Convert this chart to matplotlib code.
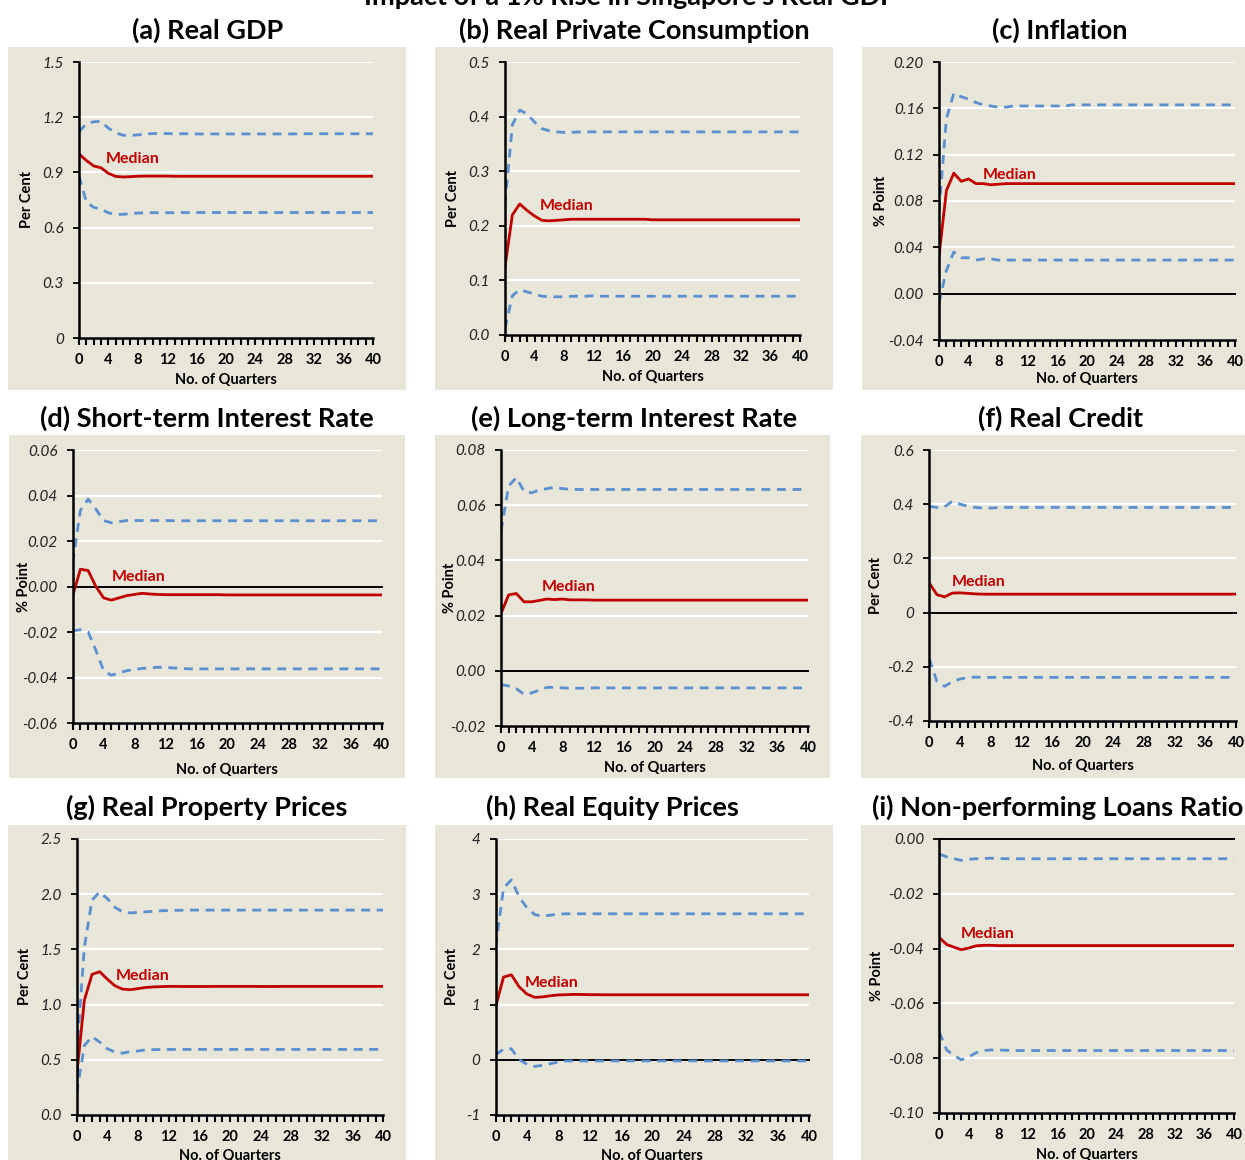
import matplotlib
matplotlib.use("Agg")
import matplotlib.pyplot as plt
from matplotlib.patches import Rectangle
from matplotlib.ticker import MultipleLocator

plt.rcParams['font.family'] = ['Lato', 'DejaVu Sans']

# ---------------- data ----------------
quarters = list(range(41))

suptitle = "Impact of a 1% Rise in Singapore's Real GDP"
titles = ["(a) Real GDP", "(b) Real Private Consumption", "(c) Inflation",
          "(d) Short-term Interest Rate", "(e) Long-term Interest Rate", "(f) Real Credit",
          "(g) Real Property Prices", "(h) Real Equity Prices", "(i) Non-performing Loans Ratio"]
ylabels = ["Per Cent", "Per Cent", "% Point",
           "% Point", "% Point", "Per Cent",
           "Per Cent", "Per Cent", "% Point"]
xlabel = "No. of Quarters"
median_label = "Median"

ytick_values = [
    [0, 0.3, 0.6, 0.9, 1.2, 1.5],
    [0.0, 0.1, 0.2, 0.3, 0.4, 0.5],
    [-0.04, 0.00, 0.04, 0.08, 0.12, 0.16, 0.20],
    [-0.06, -0.04, -0.02, 0.00, 0.02, 0.04, 0.06],
    [-0.02, 0.00, 0.02, 0.04, 0.06, 0.08],
    [-0.4, -0.2, 0, 0.2, 0.4, 0.6],
    [0.0, 0.5, 1.0, 1.5, 2.0, 2.5],
    [-1, 0, 1, 2, 3, 4],
    [-0.10, -0.08, -0.06, -0.04, -0.02, 0.00],
]
ytick_labels = [
    ["0", "0.3", "0.6", "0.9", "1.2", "1.5"],
    ["0.0", "0.1", "0.2", "0.3", "0.4", "0.5"],
    ["-0.04", "0.00", "0.04", "0.08", "0.12", "0.16", "0.20"],
    ["-0.06", "-0.04", "-0.02", "0.00", "0.02", "0.04", "0.06"],
    ["-0.02", "0.00", "0.02", "0.04", "0.06", "0.08"],
    ["-0.4", "-0.2", "0", "0.2", "0.4", "0.6"],
    ["0.0", "0.5", "1.0", "1.5", "2.0", "2.5"],
    ["-1", "0", "1", "2", "3", "4"],
    ["-0.10", "-0.08", "-0.06", "-0.04", "-0.02", "0.00"],
]
xtick_values = [0, 4, 8, 12, 16, 20, 24, 28, 32, 36, 40]

# (a) Real GDP
gdp_median = [1.000, 0.965, 0.935, 0.925, 0.895, 0.878, 0.875, 0.877, 0.879, 0.880,
              0.880, 0.880, 0.880, 0.879, 0.879, 0.879, 0.879, 0.879, 0.879, 0.879,
              0.879, 0.879, 0.879, 0.879, 0.879, 0.879, 0.879, 0.879, 0.879, 0.879,
              0.879, 0.879, 0.879, 0.879, 0.879, 0.879, 0.879, 0.879, 0.879, 0.879,
              0.879]
gdp_upper = [1.120, 1.165, 1.175, 1.178, 1.140, 1.115, 1.102, 1.100, 1.104, 1.108,
             1.111, 1.112, 1.111, 1.110, 1.110, 1.110, 1.109, 1.109, 1.109, 1.109,
             1.109, 1.109, 1.109, 1.109, 1.109, 1.109, 1.109, 1.109, 1.109, 1.109,
             1.110, 1.110, 1.110, 1.110, 1.110, 1.110, 1.110, 1.110, 1.110, 1.110,
             1.110]
gdp_lower = [0.880, 0.740, 0.710, 0.700, 0.680, 0.672, 0.672, 0.676, 0.679, 0.680,
             0.681, 0.681, 0.681, 0.681, 0.682, 0.682, 0.682, 0.682, 0.682, 0.682,
             0.682, 0.682, 0.682, 0.682, 0.682, 0.682, 0.682, 0.682, 0.682, 0.682,
             0.682, 0.682, 0.682, 0.682, 0.682, 0.682, 0.682, 0.682, 0.682, 0.682,
             0.682]

# (b) Real Private Consumption
cons_median = [0.125, 0.220, 0.240, 0.228, 0.218, 0.210, 0.209, 0.210, 0.211, 0.212,
               0.212, 0.212, 0.212, 0.212, 0.212, 0.212, 0.212, 0.212, 0.212, 0.212,
               0.211, 0.211, 0.211, 0.211, 0.211, 0.211, 0.211, 0.211, 0.211, 0.211,
               0.211, 0.211, 0.211, 0.211, 0.211, 0.211, 0.211, 0.211, 0.211, 0.211,
               0.211]
cons_upper = [0.240, 0.385, 0.412, 0.405, 0.390, 0.378, 0.374, 0.372, 0.371, 0.371,
              0.372, 0.372, 0.372, 0.372, 0.372, 0.372, 0.372, 0.372, 0.372, 0.372,
              0.372, 0.372, 0.372, 0.372, 0.372, 0.372, 0.372, 0.372, 0.372, 0.372,
              0.372, 0.372, 0.372, 0.372, 0.372, 0.372, 0.372, 0.372, 0.372, 0.372,
              0.372]
cons_lower = [0.012, 0.072, 0.083, 0.079, 0.075, 0.071, 0.070, 0.070, 0.070, 0.071,
              0.071, 0.071, 0.072, 0.071, 0.071, 0.071, 0.071, 0.071, 0.071, 0.071,
              0.071, 0.071, 0.071, 0.071, 0.071, 0.071, 0.071, 0.071, 0.071, 0.071,
              0.071, 0.071, 0.071, 0.071, 0.071, 0.071, 0.071, 0.071, 0.071, 0.071,
              0.071]

# (c) Inflation
infl_median = [0.032, 0.089, 0.104, 0.097, 0.099, 0.095, 0.095, 0.094, 0.0945, 0.095,
               0.095, 0.095, 0.095, 0.095, 0.095, 0.095, 0.095, 0.095, 0.095, 0.095,
               0.095, 0.095, 0.095, 0.095, 0.095, 0.095, 0.095, 0.095, 0.095, 0.095,
               0.095, 0.095, 0.095, 0.095, 0.095, 0.095, 0.095, 0.095, 0.095, 0.095,
               0.095]
infl_upper = [0.072, 0.151, 0.173, 0.170, 0.168, 0.165, 0.163, 0.162, 0.161, 0.161,
              0.162, 0.162, 0.162, 0.162, 0.162, 0.162, 0.162, 0.162, 0.163, 0.163,
              0.163, 0.163, 0.163, 0.163, 0.163, 0.163, 0.163, 0.163, 0.163, 0.163,
              0.163, 0.163, 0.163, 0.163, 0.163, 0.163, 0.163, 0.163, 0.163, 0.163,
              0.163]
infl_lower = [-0.008, 0.020, 0.036, 0.031, 0.031, 0.029, 0.030, 0.030, 0.029, 0.029,
              0.029, 0.029, 0.029, 0.029, 0.029, 0.029, 0.029, 0.029, 0.029, 0.029,
              0.029, 0.029, 0.029, 0.029, 0.029, 0.029, 0.029, 0.029, 0.029, 0.029,
              0.029, 0.029, 0.029, 0.029, 0.029, 0.029, 0.029, 0.029, 0.029, 0.029,
              0.029]

# (d) Short-term Interest Rate
sir_median = [-0.0040, 0.0076, 0.0070, 0.0000, -0.0050, -0.0060, -0.0050, -0.0040, -0.0035, -0.0030,
              -0.0033, -0.0035, -0.0036, -0.0036, -0.0036, -0.0036, -0.0036, -0.0036, -0.0036, -0.0036,
              -0.0037, -0.0037, -0.0037, -0.0037, -0.0037, -0.0037, -0.0037, -0.0037, -0.0037, -0.0037,
              -0.0037, -0.0037, -0.0037, -0.0037, -0.0037, -0.0037, -0.0037, -0.0037, -0.0037, -0.0037,
              -0.0037]
sir_upper = [0.0105, 0.0335, 0.0384, 0.0340, 0.0290, 0.0280, 0.0285, 0.0290, 0.0290, 0.0290,
             0.0290, 0.0290, 0.0290, 0.0289, 0.0289, 0.0289, 0.0289, 0.0289, 0.0289, 0.0289,
             0.0289, 0.0289, 0.0289, 0.0289, 0.0289, 0.0289, 0.0289, 0.0289, 0.0289, 0.0289,
             0.0289, 0.0289, 0.0289, 0.0289, 0.0289, 0.0289, 0.0289, 0.0289, 0.0289, 0.0289,
             0.0289]
sir_lower = [-0.0195, -0.0190, -0.0200, -0.0280, -0.0370, -0.0390, -0.0380, -0.0370, -0.0365, -0.0360,
             -0.0358, -0.0355, -0.0355, -0.0358, -0.0360, -0.0362, -0.0362, -0.0362, -0.0362, -0.0362,
             -0.0362, -0.0362, -0.0362, -0.0362, -0.0362, -0.0362, -0.0362, -0.0362, -0.0362, -0.0362,
             -0.0362, -0.0362, -0.0362, -0.0362, -0.0362, -0.0362, -0.0362, -0.0362, -0.0362, -0.0362,
             -0.0362]

# (e) Long-term Interest Rate
lir_median = [0.0208, 0.0275, 0.0280, 0.0250, 0.0250, 0.0255, 0.0260, 0.0258, 0.0260, 0.0257,
              0.0257, 0.0257, 0.0256, 0.0256, 0.0256, 0.0256, 0.0256, 0.0256, 0.0256, 0.0256,
              0.0256, 0.0256, 0.0256, 0.0256, 0.0256, 0.0256, 0.0256, 0.0256, 0.0256, 0.0256,
              0.0256, 0.0256, 0.0256, 0.0256, 0.0256, 0.0256, 0.0256, 0.0256, 0.0256, 0.0256,
              0.0256]
lir_upper = [0.0507, 0.0670, 0.0700, 0.0650, 0.0645, 0.0655, 0.0660, 0.0665, 0.0660, 0.0658,
             0.0657, 0.0657, 0.0657, 0.0657, 0.0657, 0.0657, 0.0657, 0.0657, 0.0657, 0.0657,
             0.0657, 0.0657, 0.0657, 0.0657, 0.0657, 0.0657, 0.0657, 0.0657, 0.0657, 0.0657,
             0.0657, 0.0657, 0.0657, 0.0657, 0.0657, 0.0657, 0.0657, 0.0657, 0.0657, 0.0657,
             0.0657]
lir_lower = [-0.0050, -0.0055, -0.0065, -0.0085, -0.0080, -0.0070, -0.0060, -0.0060, -0.0062, -0.0063,
             -0.0063, -0.0063, -0.0062, -0.0062, -0.0062, -0.0062, -0.0062, -0.0062, -0.0062, -0.0062,
             -0.0062, -0.0062, -0.0062, -0.0062, -0.0062, -0.0062, -0.0062, -0.0062, -0.0062, -0.0062,
             -0.0062, -0.0062, -0.0062, -0.0062, -0.0062, -0.0062, -0.0062, -0.0062, -0.0062, -0.0062,
             -0.0062]

# (f) Real Credit
cred_median = [0.109, 0.066, 0.058, 0.072, 0.073, 0.071, 0.069, 0.068, 0.068, 0.068,
               0.068, 0.068, 0.068, 0.068, 0.068, 0.068, 0.068, 0.068, 0.068, 0.068,
               0.068, 0.068, 0.068, 0.068, 0.068, 0.068, 0.068, 0.068, 0.068, 0.068,
               0.068, 0.068, 0.068, 0.068, 0.068, 0.068, 0.068, 0.068, 0.068, 0.068,
               0.068]
cred_upper = [0.392, 0.388, 0.390, 0.411, 0.400, 0.393, 0.388, 0.386, 0.386, 0.387,
              0.388, 0.388, 0.388, 0.388, 0.388, 0.388, 0.388, 0.388, 0.388, 0.388,
              0.388, 0.388, 0.388, 0.388, 0.388, 0.388, 0.388, 0.388, 0.388, 0.388,
              0.388, 0.388, 0.388, 0.388, 0.388, 0.388, 0.388, 0.388, 0.388, 0.388,
              0.388]
cred_lower = [-0.170, -0.255, -0.272, -0.255, -0.245, -0.240, -0.238, -0.239, -0.239, -0.239,
              -0.239, -0.239, -0.239, -0.239, -0.239, -0.239, -0.239, -0.239, -0.239, -0.239,
              -0.239, -0.239, -0.239, -0.239, -0.239, -0.239, -0.239, -0.239, -0.239, -0.239,
              -0.239, -0.239, -0.239, -0.239, -0.239, -0.239, -0.239, -0.239, -0.239, -0.239,
              -0.239]

# (g) Real Property Prices
prop_median = [0.36, 1.04, 1.274, 1.298, 1.23, 1.17, 1.14, 1.135, 1.145, 1.155,
               1.160, 1.163, 1.165, 1.165, 1.164, 1.164, 1.164, 1.164, 1.165, 1.165,
               1.165, 1.165, 1.165, 1.165, 1.164, 1.164, 1.164, 1.165, 1.165, 1.165,
               1.165, 1.165, 1.165, 1.165, 1.165, 1.165, 1.165, 1.165, 1.165, 1.165,
               1.165]
prop_upper = [0.55, 1.52, 1.947, 2.02, 1.96, 1.88, 1.84, 1.830, 1.835, 1.840,
              1.845, 1.850, 1.852, 1.854, 1.855, 1.856, 1.856, 1.856, 1.856, 1.856,
              1.856, 1.856, 1.856, 1.856, 1.856, 1.856, 1.856, 1.856, 1.856, 1.856,
              1.856, 1.856, 1.856, 1.856, 1.856, 1.856, 1.856, 1.856, 1.856, 1.856,
              1.856]
prop_lower = [0.20, 0.63, 0.71, 0.66, 0.60, 0.57, 0.56, 0.575, 0.580, 0.590,
              0.592, 0.593, 0.594, 0.594, 0.594, 0.594, 0.594, 0.594, 0.594, 0.594,
              0.594, 0.594, 0.594, 0.594, 0.594, 0.594, 0.594, 0.594, 0.594, 0.594,
              0.594, 0.594, 0.594, 0.594, 0.594, 0.594, 0.594, 0.594, 0.594, 0.594,
              0.594]

# (h) Real Equity Prices
eq_median = [0.966, 1.498, 1.54, 1.32, 1.19, 1.13, 1.14, 1.16, 1.175, 1.180,
             1.185, 1.183, 1.180, 1.179, 1.178, 1.178, 1.178, 1.178, 1.178, 1.178,
             1.178, 1.178, 1.178, 1.178, 1.178, 1.178, 1.178, 1.178, 1.178, 1.178,
             1.178, 1.178, 1.178, 1.178, 1.178, 1.178, 1.178, 1.178, 1.178, 1.178,
             1.178]
eq_upper = [2.05, 3.11, 3.26, 2.95, 2.75, 2.63, 2.60, 2.62, 2.64, 2.645,
            2.645, 2.645, 2.645, 2.645, 2.645, 2.645, 2.645, 2.645, 2.645, 2.645,
            2.645, 2.645, 2.645, 2.645, 2.645, 2.645, 2.645, 2.645, 2.645, 2.645,
            2.645, 2.645, 2.645, 2.645, 2.645, 2.645, 2.645, 2.645, 2.645, 2.645,
            2.645]
eq_lower = [0.09, 0.194, 0.20, 0.00, -0.08, -0.12, -0.10, -0.07, -0.04, -0.02,
            -0.02, -0.02, -0.02, -0.02, -0.02, -0.02, -0.02, -0.02, -0.02, -0.02,
            -0.02, -0.02, -0.02, -0.02, -0.02, -0.02, -0.02, -0.02, -0.02, -0.02,
            -0.02, -0.02, -0.02, -0.02, -0.02, -0.02, -0.02, -0.02, -0.02, -0.02,
            -0.02]

# (i) Non-performing Loans Ratio
npl_median = [-0.0360, -0.0385, -0.0395, -0.0404, -0.0398, -0.0390, -0.0388, -0.0388, -0.0389, -0.0389,
              -0.0389, -0.0389, -0.0389, -0.0389, -0.0389, -0.0389, -0.0389, -0.0389, -0.0389, -0.0389,
              -0.0389, -0.0389, -0.0389, -0.0389, -0.0389, -0.0389, -0.0389, -0.0389, -0.0389, -0.0389,
              -0.0389, -0.0389, -0.0389, -0.0389, -0.0389, -0.0389, -0.0389, -0.0389, -0.0389, -0.0389,
              -0.0389]
npl_upper = [-0.0055, -0.0065, -0.0072, -0.0078, -0.0074, -0.0072, -0.0071, -0.0070, -0.0071, -0.0072,
             -0.0072, -0.0072, -0.0072, -0.0072, -0.0072, -0.0072, -0.0072, -0.0072, -0.0072, -0.0072,
             -0.0072, -0.0072, -0.0072, -0.0072, -0.0072, -0.0072, -0.0072, -0.0072, -0.0072, -0.0072,
             -0.0072, -0.0072, -0.0072, -0.0072, -0.0072, -0.0072, -0.0072, -0.0072, -0.0072, -0.0072,
             -0.0072]
npl_lower = [-0.0705, -0.0770, -0.0790, -0.0806, -0.0795, -0.0780, -0.0772, -0.0770, -0.0770, -0.0771,
             -0.0772, -0.0772, -0.0772, -0.0772, -0.0772, -0.0772, -0.0772, -0.0772, -0.0772, -0.0772,
             -0.0772, -0.0772, -0.0772, -0.0772, -0.0772, -0.0772, -0.0772, -0.0772, -0.0772, -0.0772,
             -0.0772, -0.0772, -0.0772, -0.0772, -0.0772, -0.0772, -0.0772, -0.0772, -0.0772, -0.0772,
             -0.0772]

medians = [gdp_median, cons_median, infl_median, sir_median, lir_median, cred_median,
           prop_median, eq_median, npl_median]
uppers = [gdp_upper, cons_upper, infl_upper, sir_upper, lir_upper, cred_upper,
          prop_upper, eq_upper, npl_upper]
lowers = [gdp_lower, cons_lower, infl_lower, sir_lower, lir_lower, cred_lower,
          prop_lower, eq_lower, npl_lower]

# ---------------- layout (pixels) ----------------
W, H = 1245, 1160
BEIGE = "#E8E5D9"
RED = "#C00000"
BLUE = "#5B8FCF"

boxes = [(8, 47, 406, 390), (435, 47, 833, 390), (862, 47, 1245, 390),
         (9, 435, 405, 778), (435, 435, 830, 778), (861, 435, 1245, 778),
         (8, 825, 406, 1160), (435, 825, 833, 1160), (861, 825, 1245, 1160)]
axes_px = [(79, 62, 373, 338), (505, 62, 800, 335), (939, 62, 1235, 340),
           (72.7, 450, 381.7, 723), (501, 450, 808, 726), (929.3, 450, 1236, 721),
           (76.7, 839, 383.3, 1115), (495.7, 839, 809, 1115), (939.3, 839, 1234, 1113)]
title_pos = [(208, 39, 'center'), (634, 39, 'center'), (1060, 39, 'center'),
             (207, 427, 'center'), (634, 427, 'center'), (1060, 427, 'center'),
             (207, 816, 'center'), (612, 816, 'center'), (872, 816, 'left')]
# right edge of the rotated y label, pixels left of the y axis
ylabel_gap_px = [45, 45, 51, 42, 44, 46, 45, 37, 55]
xlabel_top_px = [35, 35, 32, 40, 35, 38, 34, 34, 35]
median_pos = [(3.7, 0.973), (4.75, 0.236), (5.9, 0.1025),
              (5.1, 0.0043), (5.35, 0.0304), (2.96, 0.112),
              (5.1, 1.259), (3.74, 1.395), (2.94, -0.0347)]

fig = plt.figure(figsize=(W / 100, H / 100), dpi=100)
fig.patch.set_facecolor("white")


def fx(px):
    return px / W


def fy(py):
    return 1 - py / H


fig.text(fx(630), fy(5), suptitle, ha='center', va='baseline',
         fontsize=19.5, fontweight='bold')

for i in range(9):
    bx0, by0, bx1, by1 = boxes[i]
    fig.patches.append(Rectangle((fx(bx0), fy(by1)), (bx1 - bx0) / W, (by1 - by0) / H,
                                 transform=fig.transFigure, facecolor=BEIGE,
                                 edgecolor='none', zorder=-1))
    tx, ty, tha = title_pos[i]
    fig.text(fx(tx), fy(ty), titles[i], ha=tha, va='baseline',
             fontsize=19.5, fontweight='bold')

    ax0, ay0, ax1, ay1 = axes_px[i]
    ax = fig.add_axes([fx(ax0), fy(ay1), (ax1 - ax0) / W, (ay1 - ay0) / H])
    ax.set_facecolor('none')

    yt = ytick_values[i]
    ax.set_xlim(0, 40)
    ax.set_ylim(min(yt), max(yt))
    ax.set_xticks(xtick_values)
    ax.set_xticklabels([str(v) for v in xtick_values], fontsize=10.5, fontweight='bold')
    ax.xaxis.set_minor_locator(MultipleLocator(1))
    ax.tick_params(axis='x', which='both', direction='out', length=5, width=1.5,
                   color='black', pad=5.5)
    ax.set_yticks(yt)
    ax.set_yticklabels(ytick_labels[i], fontsize=11, fontstyle='italic', color='#222222')
    ax.tick_params(axis='y', direction='out', length=4, width=1.3, pad=7)

    for s in ['top', 'right']:
        ax.spines[s].set_visible(False)
    for s in ['left', 'bottom']:
        ax.spines[s].set_linewidth(1.8)
        ax.spines[s].set_color('black')
        ax.spines[s].set_zorder(5)

    ax.yaxis.grid(True, color='white', linewidth=1.6)
    ax.set_axisbelow(True)

    if min(yt) < 0:
        ax.axhline(0, color='black', linewidth=1.4, zorder=2, clip_on=False)

    ax.plot(quarters, uppers[i], color=BLUE, linewidth=2.0, dashes=(3.2, 2.4), zorder=3)
    ax.plot(quarters, lowers[i], color=BLUE, linewidth=2.0, dashes=(3.2, 2.4), zorder=3)
    ax.plot(quarters, medians[i], color=RED, linewidth=2.0, zorder=4)

    mx, my = median_pos[i]
    ax.text(mx, my, median_label, color=RED, fontsize=11.5, fontweight='bold',
            ha='left', va='center', zorder=6)

    ax.set_ylabel(ylabels[i], fontsize=10.5, fontweight='bold')
    ax.yaxis.set_label_coords(-ylabel_gap_px[i] / (ax1 - ax0), 0.5)
    ax.set_xlabel(xlabel, fontsize=10.5, fontweight='bold', va='top')
    ax.xaxis.set_label_coords(0.5, -xlabel_top_px[i] / (ay1 - ay0))

fig.savefig("out.png", dpi=100, facecolor='white')
